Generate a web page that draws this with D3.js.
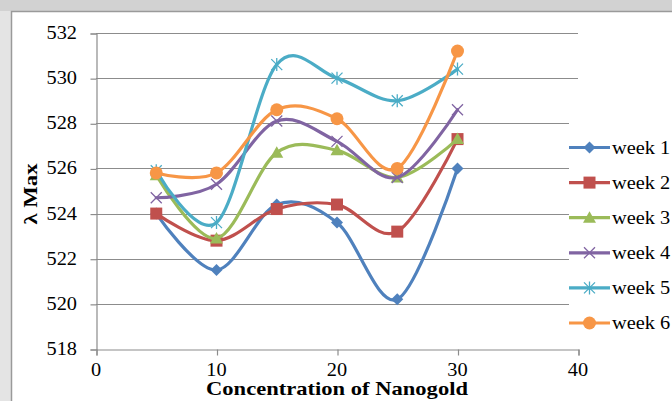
<!DOCTYPE html>
<html>
<head>
<meta charset="utf-8">
<script src="https://cdn.jsdelivr.net/npm/d3@7"></script>
<style>
  html, body { margin: 0; padding: 0; background: #ffffff; }
  svg { display: block; }
</style>
</head>
<body>
<svg id="chart" width="672" height="401"></svg>
<script>
// Concentration of nanogold (x) and λ max readings per week
const concentrations = [5, 10, 15, 20, 25, 30];
const seriesNames = ["week 1", "week 2", "week 3", "week 4", "week 5", "week 6"];
const week1 = [524.0, 521.5, 524.4, 523.6, 520.2, 526.0];
const week2 = [524.0, 522.8, 524.2, 524.4, 523.2, 527.3];
const week3 = [525.7, 522.9, 526.7, 526.8, 525.6, 527.3];
const week4 = [524.7, 525.3, 528.1, 527.2, 525.6, 528.6];
const week5 = [525.9, 523.6, 530.6, 530.0, 529.0, 530.4];
const week6 = [525.8, 525.8, 528.6, 528.2, 526.0, 531.2];
const xTicks = [0, 10, 20, 30, 40];
const yTicks = [518, 520, 522, 524, 526, 528, 530, 532];

const seriesValues = [week1, week2, week3, week4, week5, week6];
const colors = ["#4F81BD", "#C0504D", "#9BBB59", "#8064A2", "#4BACC6", "#F79646"];
const markerTypes = ["diamond", "square", "triangle", "cross", "star", "circle"];

const svg = d3.select("#chart");
const W = 672, H = 401;
const serif = "'Liberation Serif', 'Times New Roman', serif";

// page backdrop and chart frame
svg.append("rect").attr("x", 0).attr("y", 0).attr("width", W).attr("height", H).attr("fill", "#e4e4e4");
svg.append("rect").attr("x", 0).attr("y", 0).attr("width", W).attr("height", 11).attr("fill", "#d2d2d2");
svg.append("rect").attr("x", 11.5).attr("y", 11.5).attr("width", W).attr("height", H)
  .attr("fill", "#ffffff").attr("stroke", "#9a9a9a").attr("stroke-width", 1.5);

const x = d3.scaleLinear().domain([0, 40]).range([96, 578]);
const y = d3.scaleLinear().domain([518, 532]).range([349, 33]);

// horizontally widened text helper
function label(g, tx, ty, str, opts) {
  const sx = opts.stretch || 1.13;
  const t = g.append("text")
    .attr("transform", `translate(${tx},${ty}) ${opts.rotate ? "rotate(-90) " : ""}scale(${sx},1)`)
    .attr("font-family", serif)
    .attr("font-size", opts.size)
    .attr("font-weight", opts.bold ? "bold" : "normal")
    .attr("text-anchor", opts.anchor || "start")
    .attr("fill", "#000")
    .text(str);
  return t;
}

// gridlines
const grid = svg.append("g");
grid.selectAll("line").data(yTicks.filter(v => v !== 518)).join("line")
  .attr("x1", x(0)).attr("x2", x(40))
  .attr("y1", d => Math.round(y(d)) + 0.5).attr("y2", d => Math.round(y(d)) + 0.5)
  .attr("stroke", "#8c8c8c").attr("stroke-width", 1);

// axes
const axisColor = "#8c8c8c";
const yAxis = svg.append("g").attr("transform", `translate(${x(0) + 0.5},0.5)`)
  .call(d3.axisLeft(y).tickValues(yTicks).tickSize(6).tickFormat(""));
const xAxis = svg.append("g").attr("transform", `translate(0.5,${Math.round(y(518)) + 0.5})`)
  .call(d3.axisBottom(x).tickValues(xTicks).tickSize(6).tickFormat(""));
[yAxis, xAxis].forEach(a => {
  a.select(".domain").attr("stroke", axisColor).attr("stroke-width", 1.2);
  a.selectAll(".tick line").attr("stroke", axisColor).attr("stroke-width", 1.2);
});

const labels = svg.append("g");
yTicks.forEach(v => label(labels, 77, y(v) + 6, String(v), { size: 18, anchor: "end" }));
xTicks.forEach(v => label(labels, x(v), 376, String(v), { size: 18, anchor: "middle" }));

// axis titles
label(labels, (x(0) + x(40)) / 2, 395, "Concentration of Nanogold", { size: 18.5, bold: true, anchor: "middle", stretch: 1.22 });
label(labels, 37, 194, "λ Max", { size: 19, bold: true, anchor: "middle", rotate: true, stretch: 1.2 });

// marker drawing
function drawMarker(g, type, cx, cy, color) {
  const m = g.append("g").attr("transform", `translate(${cx},${cy})`);
  if (type === "diamond") {
    m.append("path").attr("d", "M0,-6L6,0L0,6L-6,0Z").attr("fill", color);
  } else if (type === "square") {
    m.append("rect").attr("x", -6).attr("y", -6).attr("width", 12).attr("height", 12).attr("fill", color);
  } else if (type === "triangle") {
    m.append("path").attr("d", "M0,-6.5L6.5,5L-6.5,5Z").attr("fill", color);
  } else if (type === "cross") {
    m.append("path").attr("d", "M-5.5,-5.5L5.5,5.5M-5.5,5.5L5.5,-5.5")
      .attr("stroke", color).attr("stroke-width", 1.3).attr("fill", "none");
  } else if (type === "star") {
    m.append("path").attr("d", "M-5.5,-5.5L5.5,5.5M-5.5,5.5L5.5,-5.5M0,-6.5L0,6.5")
      .attr("stroke", color).attr("stroke-width", 1.3).attr("fill", "none");
  } else if (type === "circle") {
    m.append("circle").attr("r", 6.5).attr("fill", color);
  }
}

// smoothed series lines with markers
const line = d3.line()
  .x(d => x(d[0])).y(d => y(d[1]))
  .curve(d3.curveCardinal.tension(0));

const plot = svg.append("g");
seriesValues.forEach((vals, i) => {
  const pts = concentrations.map((c, j) => [c, vals[j]]);
  const g = plot.append("g");
  g.append("path").attr("d", line(pts))
    .attr("fill", "none").attr("stroke", colors[i]).attr("stroke-width", 3.2)
    .attr("stroke-linejoin", "round").attr("stroke-linecap", "round");
  pts.forEach(p => drawMarker(g, markerTypes[i], x(p[0]), y(p[1]), colors[i]));
});

// legend
const legend = svg.append("g");
legend.append("rect").attr("x", 569).attr("y", 112).attr("width", 110).attr("height", 228).attr("fill", "#ffffff");
seriesNames.forEach((name, i) => {
  const ly = 147.5 + i * 35.1;
  legend.append("line").attr("x1", 569).attr("x2", 610).attr("y1", ly).attr("y2", ly)
    .attr("stroke", colors[i]).attr("stroke-width", 3.2);
  drawMarker(legend, markerTypes[i], 589.5, ly, colors[i]);
  label(legend, 612, ly + 6, name, { size: 18 });
});
</script>
</body>
</html>
